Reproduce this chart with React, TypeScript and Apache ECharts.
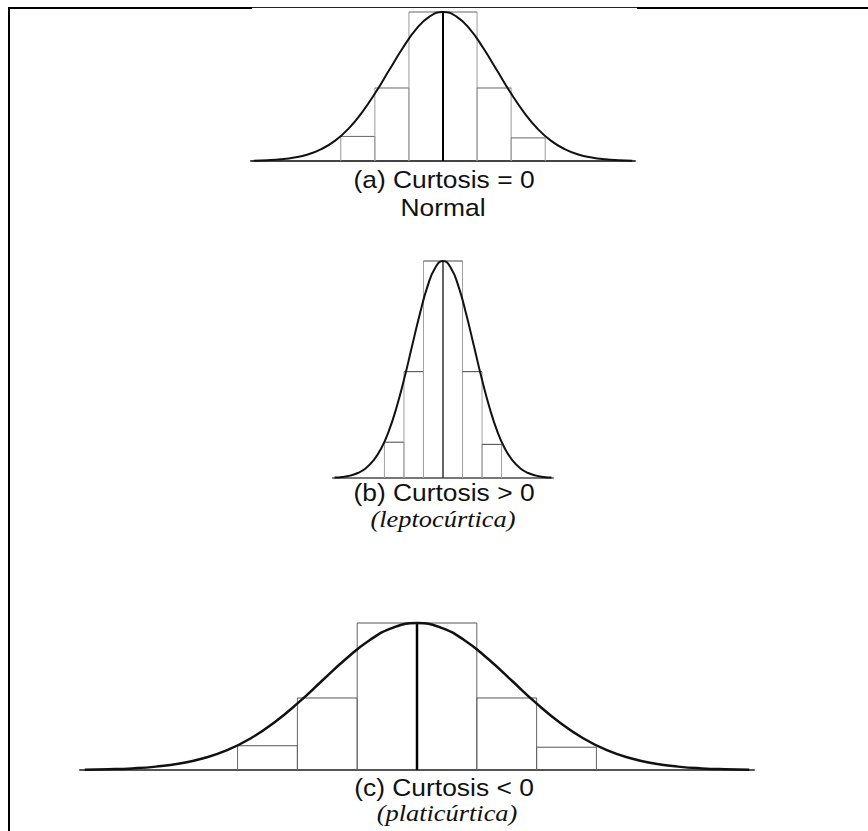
import React, { useEffect, useRef } from "react";
import * as echarts from "echarts";

// Standardised shape shared by the three panels: x in units of the curve's spread,
// heights relative to the peak.
const curveZ = [
  -3.5, -3.25, -3, -2.75, -2.5, -2.25, -2, -1.75, -1.5, -1.25, -1, -0.75, -0.5, -0.25, 0,
  0.25, 0.5, 0.75, 1, 1.25, 1.5, 1.75, 2, 2.25, 2.5, 2.75, 3, 3.25, 3.5,
];
const curveH = [
  0.002, 0.005, 0.011, 0.023, 0.044, 0.08, 0.135, 0.216, 0.325, 0.458, 0.607, 0.755, 0.883, 0.969, 1,
  0.969, 0.883, 0.755, 0.607, 0.458, 0.325, 0.216, 0.135, 0.08, 0.044, 0.023, 0.011, 0.005, 0.002,
];

// Histogram bins: [left edge, right edge, height]
const binLeft = [-1.89, -1.26, -0.63, 0.63, 1.26];
const binRight = [-1.26, -0.63, 0.63, 1.26, 1.89];
const binHeight = [0.165, 0.49, 1, 0.49, 0.155];

// Panel captions
const captionsA = ["(a) Curtosis = 0", "Normal"];
const captionsB = ["(b) Curtosis > 0", "(leptocúrtica)"];
const captionsC = ["(c) Curtosis < 0", "(platicúrtica)"];

const zRange = [-3.55, 3.55];

type Panel = {
  left: number;
  top: number;
  width: number;
  height: number;
  edge: string;
  topEdge: string;
  curveWidth: number;
  centerWidth: number;
  centerColor: string;
  baseColor: string;
};

const panels: Panel[] = [
  { left: 251, top: 12, width: 384, height: 149, edge: "#9a9a9a", topEdge: "#666", curveWidth: 2, centerWidth: 2, centerColor: "#000", baseColor: "#444" },
  { left: 333, top: 261, width: 220, height: 217, edge: "#a0a0a0", topEdge: "#444", curveWidth: 2, centerWidth: 1.5, centerColor: "#333", baseColor: "#777" },
  { left: 80, top: 623, width: 674, height: 147, edge: "#666", topEdge: "#555", curveWidth: 2.5, centerWidth: 2.5, centerColor: "#000", baseColor: "#555" },
];

const sansFont = "'Liberation Sans', Arial, Helvetica, sans-serif";
const serifFont = "'Liberation Serif', 'Times New Roman', serif";

export default function App() {
  const ref = useRef<HTMLDivElement>(null);

  useEffect(() => {
    if (!ref.current) return;
    const chart = echarts.init(ref.current, null, { renderer: "svg" });

    const curveData = curveZ.map((z, i) => [z, curveH[i]]);
    const binData = binLeft.map((l, i) => [l, binRight[i], binHeight[i]]);

    const grids = panels.map((p) => ({ left: p.left, top: p.top, width: p.width, height: p.height }));
    const xAxes = panels.map((p, i) => ({
      type: "value",
      gridIndex: i,
      min: zRange[0],
      max: zRange[1],
      axisLine: { show: true, onZero: false, lineStyle: { color: p.baseColor, width: 2 } },
      axisTick: { show: false },
      axisLabel: { show: false },
      splitLine: { show: false },
    }));
    const yAxes = panels.map((_, i) => ({
      type: "value",
      gridIndex: i,
      min: 0,
      max: 1,
      show: false,
      splitLine: { show: false },
    }));

    const series: any[] = [];
    panels.forEach((p, i) => {
      series.push({
        type: "custom",
        xAxisIndex: i,
        yAxisIndex: i,
        z: 1,
        clip: false,
        encode: { x: [0, 1], y: 2 },
        data: binData,
        renderItem: (_params: any, api: any) => {
          const a = api.coord([api.value(0), api.value(2)]);
          const b = api.coord([api.value(1), 0]);
          return {
            type: "group",
            children: [
              {
                type: "polyline",
                shape: { points: [[a[0], b[1]], [a[0], a[1]]] },
                style: { stroke: p.edge, lineWidth: 1, fill: null },
              },
              {
                type: "polyline",
                shape: { points: [[b[0], b[1]], [b[0], a[1]]] },
                style: { stroke: p.edge, lineWidth: 1, fill: null },
              },
              {
                type: "line",
                shape: { x1: a[0], y1: a[1], x2: b[0], y2: a[1] },
                style: { stroke: p.topEdge, lineWidth: 1 },
              },
            ],
          };
        },
      });
      series.push({
        type: "line",
        xAxisIndex: i,
        yAxisIndex: i,
        z: 2,
        clip: false,
        symbol: "none",
        data: [[0, 0], [0, 1]],
        lineStyle: { color: p.centerColor, width: p.centerWidth },
      });
      series.push({
        type: "line",
        xAxisIndex: i,
        yAxisIndex: i,
        z: 3,
        clip: false,
        smooth: true,
        symbol: "none",
        data: curveData,
        lineStyle: { color: "#111", width: p.curveWidth },
      });
    });

    const caption = (text: string, x: number, y: number, serif = false) => ({
      type: "text",
      x,
      y,
      scaleX: 1.1,
      style: {
        text,
        fill: "#111",
        font: serif ? `italic 24px ${serifFont}` : `24px ${sansFont}`,
        align: "center",
        verticalAlign: "middle",
      },
    });

    chart.setOption({
      animation: false,
      backgroundColor: "#fff",
      grid: grids,
      xAxis: xAxes,
      yAxis: yAxes,
      series,
      graphic: [
        { type: "line", shape: { x1: 8, y1: 8, x2: 252, y2: 8 }, style: { stroke: "#000", lineWidth: 2 } },
        { type: "line", shape: { x1: 252, y1: 7.5, x2: 637, y2: 7.5 }, style: { stroke: "#222", lineWidth: 1 } },
        { type: "line", shape: { x1: 637, y1: 8, x2: 868, y2: 8 }, style: { stroke: "#000", lineWidth: 2 } },
        { type: "line", shape: { x1: 9, y1: 7, x2: 9, y2: 831 }, style: { stroke: "#000", lineWidth: 2 } },
        caption(captionsA[0], 444, 179),
        caption(captionsA[1], 443, 207),
        caption(captionsB[0], 444, 492),
        caption(captionsB[1], 443, 519, true),
        caption(captionsC[0], 444, 787),
        caption(captionsC[1], 447, 813, true),
      ],
    });

    return () => chart.dispose();
  }, []);

  return (
    <div
      ref={ref}
      style={{ position: "fixed", left: 0, top: 0, width: 868, height: 831, background: "#fff" }}
    />
  );
}
